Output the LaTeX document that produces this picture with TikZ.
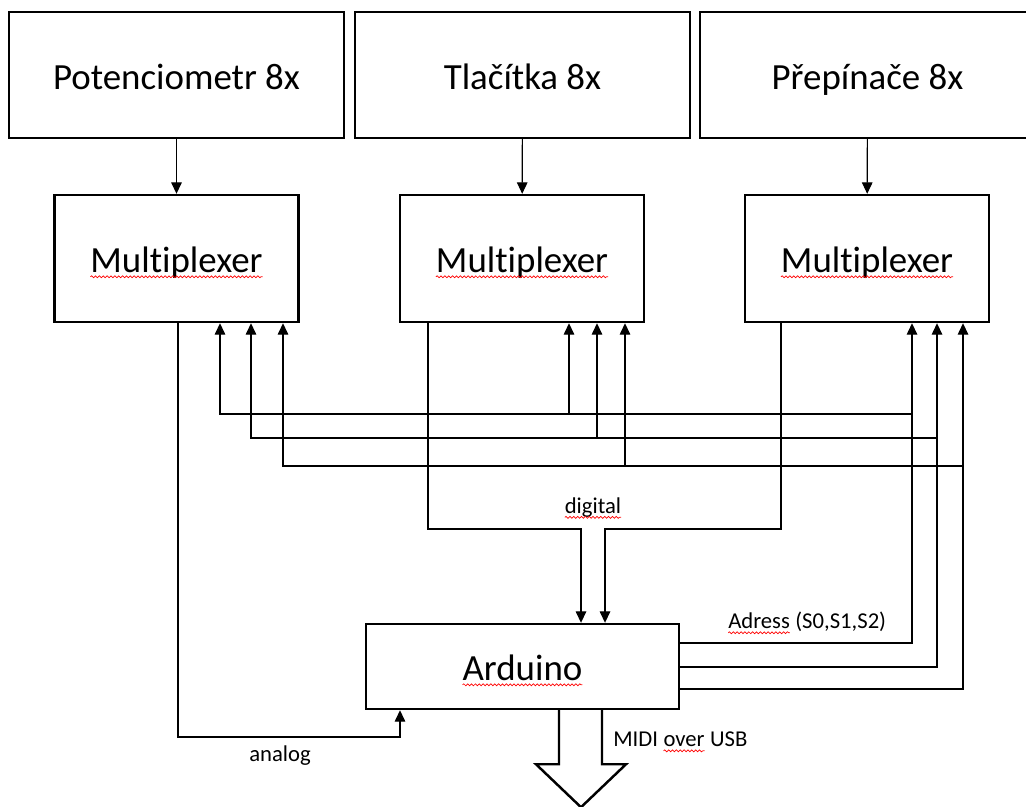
\documentclass[tikz,border=0pt]{standalone}
\usepackage{fontspec}
\setmainfont{Carlito}[Ligatures=NoCommon]
\usetikzlibrary{arrows.meta,decorations.pathmorphing}

\newcommand{\spell}[1]{%
  \tikz[baseline=(sp.base)]{%
    \node[shape=rectangle,draw=none,fill=none,inner sep=0pt,outer sep=0pt,
      minimum width=0pt,minimum height=0pt,text height=,text depth=,anchor=base] (sp) at (0,0) {#1};
    \draw[red,line width=0.4pt,decorate,
      decoration={snake,amplitude=0.55pt,segment length=2.2pt}]
      ([yshift=-2.4pt]sp.base west) -- ([yshift=-2.4pt]sp.base east);}}

\begin{document}
\begin{tikzpicture}[x=0.02cm,y=-0.02cm,
  >={Triangle[length=6.5pt,width=6pt]},
  bigtext/.style={font=\fontsize{21}{25}\selectfont,text height=20pt,text depth=4pt},
  inbox/.style={draw,bigtext,line width=1.1pt,minimum width=6.7cm,minimum height=2.52cm,inner sep=0pt},
  muxbox/.style={draw,bigtext,line width=1.4pt,minimum width=4.88cm,minimum height=2.54cm,inner sep=0pt},
  ardbox/.style={draw,bigtext,line width=1.4pt,minimum width=6.26cm,minimum height=1.7cm,inner sep=0pt},
  wire/.style={line width=0.65pt},
  lbl/.style={inner sep=0pt,font=\fontsize{12.9}{15}\selectfont},
  usbarrow/.style={line width=1.4pt,line join=miter}]
	\useasboundingbox (0,0) rectangle (1026,806);
	\node[inbox] (pot) at (176.5,75) {Potenciometr 8x};
	\node[inbox] (tl) at (522.5,75) {Tlačítka 8x};
	\node[inbox] (pr) at (867.5,75) {Přepínače 8x};
	\node[muxbox] (mx1) at (176.5,258.5) {\spell{Multiplexer}};
	\node[muxbox] (mx2) at (522,258.5) {\spell{Multiplexer}};
	\node[muxbox] (mx3) at (867,258.5) {\spell{Multiplexer}};
	\node[ardbox] (ard) at (522.5,666.5) {\spell{Arduino}};
	\draw[wire,->] (pot) -- (mx1);
	\draw[wire,->] (tl) -- (mx2);
	\draw[wire,->] (pr) -- (mx3);
	\coordinate (an1) at (178,737);
	\coordinate (an2) at (400,737);
	\draw[wire,->] (mx1.south -| an1) -- (an1) -- (an2) -- (ard.south -| an2);
	\coordinate (dg1) at (428,529);
	\coordinate (dg2) at (581,529);
	\coordinate (dg3) at (781,529);
	\coordinate (dg4) at (605,529);
	\draw[wire,->] (mx2.south -| dg1) -- (dg1) -- (dg2) -- (ard.north -| dg2);
	\draw[wire,->] (mx3.south -| dg3) -- (dg3) -- (dg4) -- (ard.north -| dg4);
	\foreach \i/\xl/\xm/\xr/\yb/\ya in {0/220/569/912/414/643, 1/251/597/937/438/667, 2/283/625/963/466/689}{
		\coordinate (s\i) at (\xr,\ya);
		\coordinate (b\i) at (\xl,\yb);
		\coordinate (m\i) at (\xm,\yb);
		\draw[wire,->] (ard.east |- s\i) -- (s\i) -- (mx3.south -| s\i);
		\draw[wire,->] (s\i |- b\i) -- (b\i) -- (mx1.south -| b\i);
		\draw[wire,->] (m\i) -- (mx2.south -| m\i);
	}
	\coordinate (u1) at (559,709);
	\coordinate (u2) at (602,709);
	\draw[usbarrow] (ard.south -| u1) -- ++(0,54) -- ++(-23,0) -- ++(45,43) -- ++(45,-43) -- ++(-24,0) -- (ard.south -| u2);
	\node[lbl] (dig) at (593,508) {\spell{digital}};
	\node[lbl] (adr) at (807,623) {\spell{Adress} (S0,S1,S2)};
	\node[lbl] (ana) at (280,756) {analog};
	\node[lbl,anchor=west] (midi) at (613,742) {MIDI \spell{over} USB};
\end{tikzpicture}
\end{document}
